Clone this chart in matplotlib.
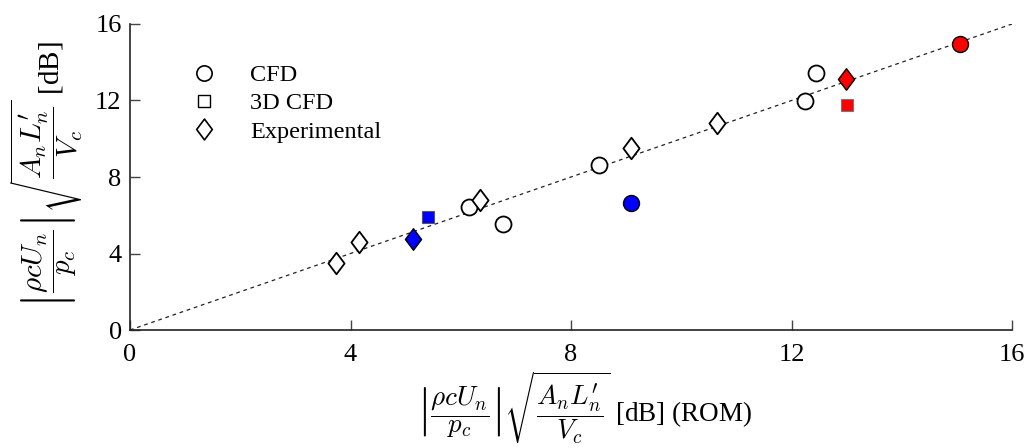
import matplotlib
matplotlib.use("Agg")
import matplotlib.pyplot as plt
from matplotlib.lines import Line2D
from matplotlib.path import Path

plt.rcParams['font.family'] = ['Liberation Serif', 'DejaVu Serif']
plt.rcParams['mathtext.fontset'] = 'stix'

# CFD (circles)
cfd_x = [6.15, 6.77, 8.51, 12.25, 12.45]
cfd_y = [6.43, 5.54, 8.63, 11.97, 13.44]
cfd_blue = (9.09, 6.64)
cfd_red = (15.06, 14.95)

# 3D CFD (squares)
cfd3d_blue = (5.41, 5.91)
cfd3d_red = (13.01, 11.76)

# Experimental (diamonds)
exp_x = [3.74, 4.16, 6.35, 9.09, 10.64]
exp_y = [3.50, 4.60, 6.80, 9.52, 10.82]
exp_blue = (5.14, 4.76)
exp_red = (12.99, 13.12)

ticks = [0, 4, 8, 12, 16]

diamond = Path([(0, 1), (0.75, 0), (0, -1), (-0.75, 0), (0, 1)],
               [Path.MOVETO, Path.LINETO, Path.LINETO, Path.LINETO, Path.CLOSEPOLY])

fig = plt.figure(figsize=(10.25, 4.48), dpi=100)
ax = fig.add_axes([130/1025, 1-330/448, (1012-130)/1025, (330-24)/448])

ax.plot([0, 16], [0, 16], ls=(0, (3, 3)), color='#222222', lw=0.9, zorder=1)

ms_c = 11.5
ms_d = 15.5
ms_s = 9
ax.plot(cfd_x, cfd_y, 'o', mfc='white', mec='black', ms=ms_c, mew=1.3, zorder=3)
ax.plot(exp_x, exp_y, ls='none', marker=diamond, mfc='white', mec='black', ms=ms_d, mew=1.3, zorder=3)
ax.plot(*cfd_blue, 'o', mfc='blue', mec='black', ms=ms_c, mew=1.0, zorder=4)
ax.plot(*cfd_red, 'o', mfc='red', mec='black', ms=ms_c, mew=1.0, zorder=4)
ax.plot(*cfd3d_blue, 's', mfc='blue', mec='#555555', ms=ms_s, mew=0.8, zorder=4)
ax.plot(*cfd3d_red, 's', mfc='red', mec='#777777', ms=ms_s, mew=0.8, zorder=4)
ax.plot(*exp_blue, ls='none', marker=diamond, mfc='blue', mec='black', ms=ms_d, mew=1.0, zorder=4)
ax.plot(*exp_red, ls='none', marker=diamond, mfc='red', mec='black', ms=ms_d, mew=1.0, zorder=4)

ax.set_xlim(0, 16)
ax.set_ylim(0, 16)
ax.set_xticks(ticks)
ax.set_yticks(ticks)
ax.tick_params(direction='in', length=7, width=1, labelsize=19, pad=6, color='#444444')
ax.tick_params(axis='x', pad=10)
for s in ['top', 'right']:
    ax.spines[s].set_visible(False)
for s in ['left', 'bottom']:
    ax.spines[s].set_linewidth(1.2)
    ax.spines[s].set_color('#222222')

expr = r"$\left|\dfrac{\rho c U_n}{p_c}\right| \sqrt{\dfrac{A_n L^{\prime}_n}{V_c}}$"
ax.set_xlabel(expr + " [dB] (ROM)", fontsize=19.5, math_fontfamily='cm')
ax.xaxis.set_label_coords(0.515, -0.128)
ax.set_ylabel(expr + " [dB]", fontsize=21, math_fontfamily='cm')
ax.yaxis.set_label_coords(-0.051, 0.507)

handles = [
    Line2D([], [], marker='o', ls='none', mfc='white', mec='black', ms=11, mew=1.2),
    Line2D([], [], marker='s', ls='none', mfc='white', mec='black', ms=9, mew=1.0),
    Line2D([], [], marker=diamond, ls='none', mfc='white', mec='black', ms=15, mew=1.2),
]
ax.legend(handles, ['CFD', '3D CFD', 'Experimental'], loc='upper left',
          bbox_to_anchor=(0.045, 0.90), frameon=False, fontsize=17.5,
          handletextpad=0.9, labelspacing=0.25, borderaxespad=0, handlelength=2.0)

fig.savefig('out.png', dpi=100)
